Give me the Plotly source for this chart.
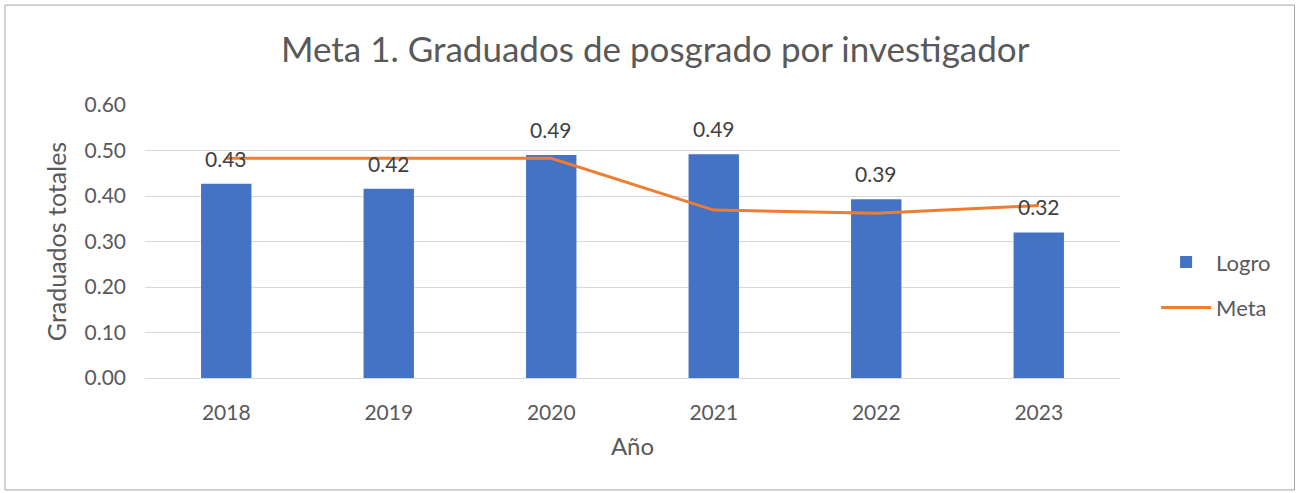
import plotly.graph_objects as go

years = ["2018", "2019", "2020", "2021", "2022", "2023"]
logro = [0.427, 0.416, 0.490, 0.492, 0.393, 0.320]
meta = [0.483, 0.483, 0.483, 0.369, 0.362, 0.379]
y_ticks = [0.0, 0.1, 0.2, 0.3, 0.4, 0.5, 0.6]

FONT = "Lato"
GRAY = "#595959"

fig = go.Figure()
fig.add_trace(go.Bar(
    x=years, y=logro, name="Logro", marker=dict(color="#4472C4", line=dict(width=0)),
    width=0.31, legendgroup="a",
))
fig.add_trace(go.Scatter(
    x=years, y=meta, name="Meta", mode="lines",
    line=dict(color="#ED7D31", width=3), legendgroup="b",
))

for i, v in enumerate(logro):
    fig.add_annotation(x=i, y=v, text=f"{v:.2f}", showarrow=False,
                       yanchor="bottom", yshift=11,
                       font=dict(family=FONT, size=21, color="#404040"))

fig.add_shape(type="rect", xref="paper", yref="paper",
              x0=-0.1436, x1=1.179, y0=-0.41, y1=1.366,
              line=dict(color="#A6A6A6", width=1), fillcolor="rgba(0,0,0,0)")

fig.update_layout(
    width=1300, height=493,
    margin=dict(l=145, r=180, t=105, b=115),
    paper_bgcolor="white", plot_bgcolor="white",
    font=dict(family=FONT, color=GRAY, size=16),
    title=dict(text="Meta 1. Graduados de posgrado por investigador",
               x=0.504, xanchor="center", y=0.9, yanchor="middle",
               font=dict(family=FONT, size=35, color=GRAY)),
    legend=dict(x=1.037, y=0.34, xanchor="left", yanchor="middle",
                font=dict(family=FONT, size=22, color=GRAY),
                traceorder="grouped", tracegroupgap=14, itemwidth=50),
    bargap=0.69,
    showlegend=True,
)
fig.update_xaxes(
    type="category", range=[-0.5, 5.5],
    showgrid=False, showline=True, linecolor="#D9D9D9", linewidth=1,
    tickfont=dict(family=FONT, size=21, color=GRAY), ticks="", ticklabelstandoff=16,
    title=dict(text="Año", font=dict(family=FONT, size=24, color=GRAY), standoff=14),
)
fig.update_yaxes(
    range=[0, 0.6], tickvals=y_ticks, ticktext=[f"{t:.2f}" for t in y_ticks],
    showgrid=True, gridcolor="#D9D9D9", gridwidth=1, zeroline=False,
    tickfont=dict(family=FONT, size=21, color=GRAY), ticks="", ticklabelstandoff=18,
    title=dict(text="Graduados totales", font=dict(family=FONT, size=25, color=GRAY), standoff=10),
)

fig.write_html("out.html", config={"displayModeBar": False},
               post_script="document.body.style.margin='0';")
